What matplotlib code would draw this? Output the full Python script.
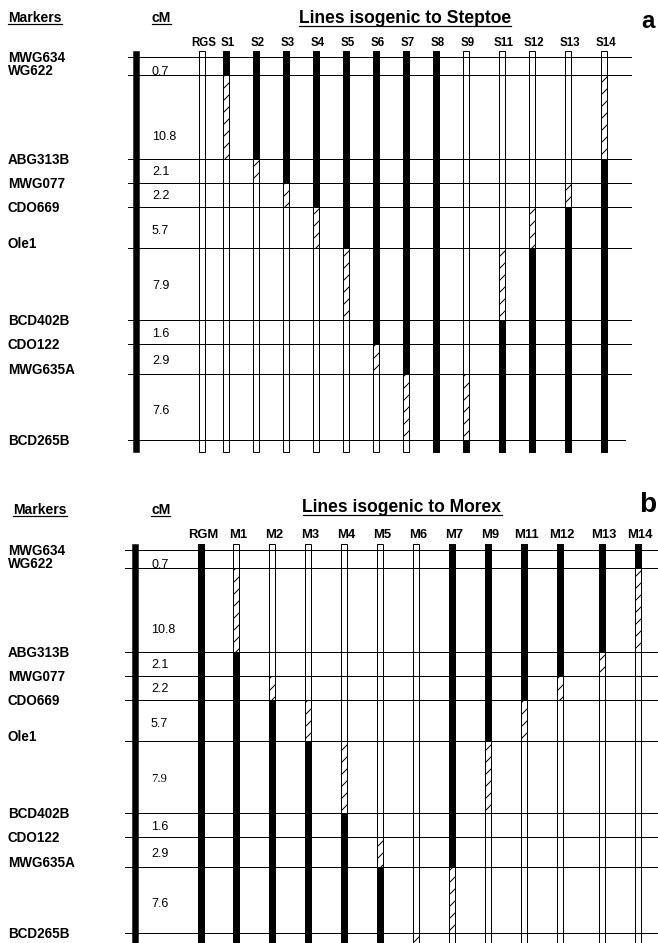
import matplotlib.pyplot as plt
from matplotlib.patches import Rectangle

# map markers (top to bottom) and the cM distance of each interval
markers = ["MWG634", "WG622", "ABG313B", "MWG077", "CDO669", "Ole1",
           "BCD402B", "CDO122", "MWG635A", "BCD265B"]
interval_cm = ["0.7", "10.8", "2.1", "2.2", "5.7", "7.9", "1.6", "2.9", "7.6"]

# genotype per column, 11 segments: cap above first marker, 9 intervals, cap below last
# B = black, W = white, H = hatched (crossover interval)
steptoe_lines = ["RGS", "S1", "S2", "S3", "S4", "S5", "S6", "S7", "S8",
                 "S9", "S11", "S12", "S13", "S14"]
steptoe_geno = ["WWWWWWWWWWW", "BBHWWWWWWWW", "BBBHWWWWWWW", "BBBBHWWWWWW",
                "BBBBBHWWWWW", "BBBBBBHWWWW", "BBBBBBBBHWW", "BBBBBBBBBHW",
                "BBBBBBBBBBB", "WWWWWWWWWHB", "WWWWWWHBBBB", "WWWWWHBBBBB",
                "WWWWHBBBBBB", "WWHBBBBBBBB"]

morex_lines = ["RGM", "M1", "M2", "M3", "M4", "M5", "M6", "M7", "M9",
               "M11", "M12", "M13", "M14"]
morex_geno = ["BBBBBBBBBBB", "WWHBBBBBBBB", "WWWWHBBBBBB", "WWWWWHBBBBB",
              "WWWWWWHBBBB", "WWWWWWWWHBB", "WWWWWWWWWWH", "BBBBBBBBBHW",
              "BBBBBBHWWWW", "BBBBBHWWWWW", "BBBBHWWWWWW", "BBBHWWWWWWW",
              "BBHWWWWWWWW"]

# drawing layout (pixel units, y grows downward)
row_y = [0, 18, 102, 126, 150, 191, 263, 287, 317, 383]
name_dy = [5, 0, 5, 5, 5, 0, 5, 5, 0, 5]
cm_y = [14, 79, 114, 138, 173, 228, 276, 303, 353]

SANS = "Liberation Sans"
SERIF = "Liberation Serif"

panels = [
    dict(top=57, lines=steptoe_lines, geno=steptoe_geno,
         xs=[202, 226, 256, 286, 316, 346, 376, 406, 436, 466, 502, 532, 568, 604],
         chrom_x=136, hline=(128, 631), last_hline_end=625,
         title="Lines isogenic to Steptoe", title_x=405, letter="a", letter_size=24,
         head_base=22, title_base=23, col_base=46, col_size=11.5, letter_base=28,
         markers_x=8, cm_x=152, cm_fonts={}),
    dict(top=550, lines=morex_lines, geno=morex_geno,
         xs=[201, 236, 272, 308, 344, 380, 416, 452, 488, 524, 560, 602, 638],
         chrom_x=135, hline=(125, 660), last_hline_end=660,
         title="Lines isogenic to Morex", title_x=402, letter="b", letter_size=28,
         head_base=514, title_base=512, col_base=538, col_size=13, letter_base=512,
         markers_x=13, cm_x=151, cm_fonts={"7.9": SERIF}),
]

W, H = 658, 943
fig = plt.figure(figsize=(W / 72, H / 72), dpi=72)
ax = fig.add_axes([0, 0, 1, 1])
ax.set_xlim(0, W)
ax.set_ylim(H, 0)
ax.axis("off")

bar_w = 6
underlined = []

for p in panels:
    ys = [p["top"] + r for r in row_y]
    bar_top, bar_bot = ys[0] - 6, ys[-1] + 12
    edges = [bar_top] + ys + [bar_bot]

    # horizontal marker lines
    for i, y in enumerate(ys):
        x1 = p["last_hline_end"] if i == len(ys) - 1 else p["hline"][1]
        ax.plot([p["hline"][0], x1], [y, y], color="black", lw=1.0, zorder=5)

    # chromosome bar
    ax.add_patch(Rectangle((p["chrom_x"] - 3, bar_top), 6, bar_bot - bar_top,
                           facecolor="black", edgecolor="black", lw=0.5, zorder=3))

    # marker names and cM values
    for name, y, dy in zip(markers, ys, name_dy):
        ax.text(8, y + dy, name, fontsize=13.5, fontweight="bold",
                family=SANS, va="baseline", ha="left")
    for val, dy in zip(interval_cm, cm_y):
        ax.text(p["cm_x"], p["top"] + dy + 4, val, fontsize=12.5,
                family=p["cm_fonts"].get(val, SANS), va="baseline", ha="left")

    # line columns
    for lab, g, x in zip(p["lines"], p["geno"], p["xs"]):
        x0 = x - bar_w / 2
        ax.add_patch(Rectangle((x0, bar_top), bar_w, bar_bot - bar_top,
                               facecolor="white", edgecolor="none", zorder=2))
        for s, y0, y1 in zip(g, edges[:-1], edges[1:]):
            if s == "B":
                ax.add_patch(Rectangle((x0, y0), bar_w, y1 - y0, facecolor="black",
                                       edgecolor="black", lw=0.5, zorder=3))
            elif s == "H":
                ax.add_patch(Rectangle((x0, y0), bar_w, y1 - y0, facecolor="white",
                                       edgecolor="black", hatch="//", lw=0, zorder=3))
        ax.add_patch(Rectangle((x0, bar_top), bar_w, bar_bot - bar_top,
                               fill=False, edgecolor="black", lw=1.0, zorder=4))
        ax.text(x + 2, p["col_base"], lab, fontsize=p["col_size"], fontweight="bold",
                family=SANS, ha="center", va="baseline")

    # headers
    t1 = ax.text(p["markers_x"], p["head_base"], "Markers", fontsize=14,
                 fontweight="bold", family=SANS, va="baseline")
    t2 = ax.text(p["cm_x"], p["head_base"], "cM", fontsize=14,
                 fontweight="bold", family=SANS, va="baseline")
    t3 = ax.text(p["title_x"], p["title_base"], p["title"], fontsize=17.5,
                 fontweight="bold", family=SANS, va="baseline", ha="center")
    underlined += [(t1, p["head_base"] + 2), (t2, p["head_base"] + 2),
                   (t3, p["title_base"] + 3)]
    ax.text(648, p["letter_base"], p["letter"], fontsize=p["letter_size"],
            fontweight="bold", family=SANS, va="baseline", ha="center")

# underline the headers using their rendered extents
renderer = fig.canvas.get_renderer()
for t, y in underlined:
    bb = t.get_window_extent(renderer)
    ax.plot([bb.x0, bb.x1], [y, y], color="black", lw=1.2)

fig.savefig("out.png", dpi=72)
